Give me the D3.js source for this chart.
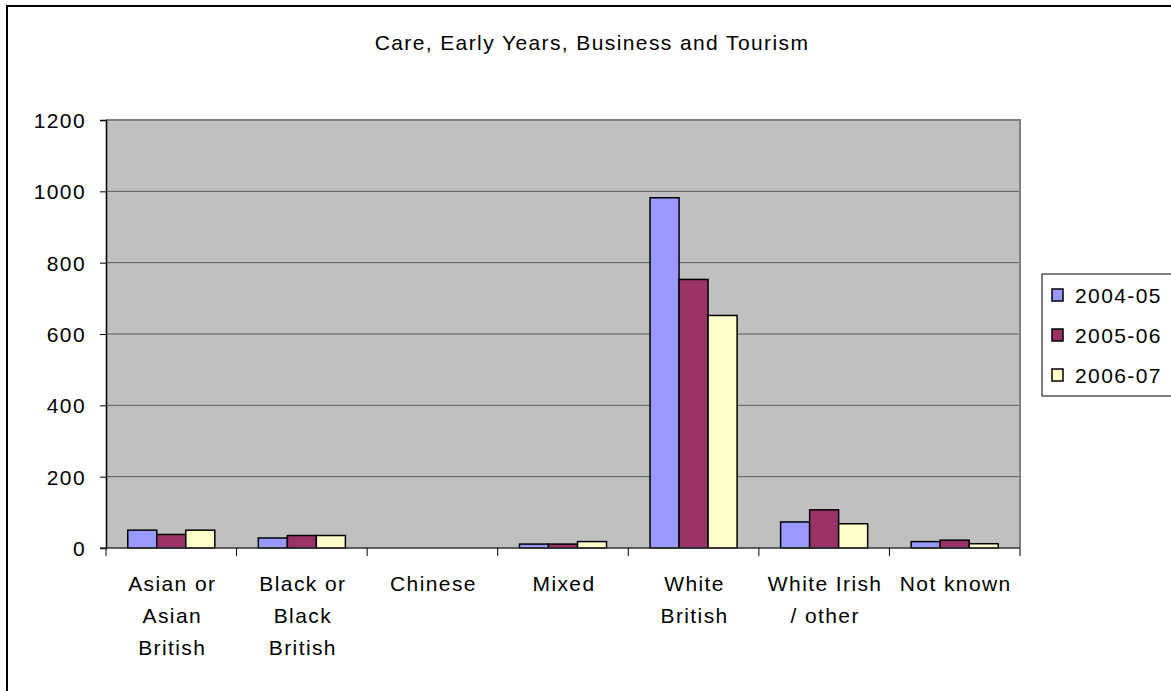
<!DOCTYPE html>
<html>
<head>
<meta charset="utf-8">
<script src="https://cdn.jsdelivr.net/npm/d3@7"></script>
<style>
  html, body { margin: 0; padding: 0; background: #fff; }
  svg text { font-family: "Liberation Sans", Arial, sans-serif; fill: #000; letter-spacing: 1.4px; }
</style>
</head>
<body>
<svg id="chart" width="1171" height="691"></svg>
<script>
// Ethnicity groups along the x axis (each label split into lines)
const categories = [
  ["Asian or", "Asian", "British"],
  ["Black or", "Black", "British"],
  ["Chinese"],
  ["Mixed"],
  ["White", "British"],
  ["White Irish", "/ other"],
  ["Not known"]
];
const seriesNames = ["2004-05", "2005-06", "2006-07"];
const values2004 = [50, 28, 0, 11, 982, 73, 18];
const values2005 = [38, 35, 0, 11, 753, 107, 22];
const values2006 = [50, 35, 0, 18, 652, 68, 12];
const yTicks = [0, 200, 400, 600, 800, 1000, 1200];
const colors = ["#9999FF", "#993366", "#FFFFCC"];

const series = [values2004, values2005, values2006];
const svg = d3.select("#chart");
const FONT = 21;

// outer chart frame
svg.append("rect")
  .attr("x", 7).attr("y", 6).attr("width", 1200).attr("height", 720)
  .attr("fill", "none").attr("stroke", "#000").attr("stroke-width", 2);

// title
svg.append("text")
  .attr("x", 592).attr("y", 42).attr("dy", "0.36em")
  .attr("text-anchor", "middle")
  .attr("font-size", FONT)
  .text("Care, Early Years, Business and Tourism");

const plot = { left: 106, right: 1020, top: 120, bottom: 548 };

const x = d3.scaleBand()
  .domain(d3.range(categories.length))
  .range([plot.left, plot.right])
  .paddingInner(0).paddingOuter(0);

const y = d3.scaleLinear().domain([0, 1200]).range([plot.bottom, plot.top]);

// plot background
svg.append("rect")
  .attr("x", plot.left).attr("y", plot.top)
  .attr("width", plot.right - plot.left).attr("height", plot.bottom - plot.top)
  .attr("fill", "#C0C0C0");

// horizontal gridlines
svg.append("g")
  .selectAll("line")
  .data(yTicks.filter(d => d > 0 && d < 1200))
  .join("line")
  .attr("x1", plot.left).attr("x2", plot.right)
  .attr("y1", d => y(d)).attr("y2", d => y(d))
  .attr("stroke", "#5a5a5a").attr("stroke-width", 1);

// plot border (top and right)
svg.append("path")
  .attr("d", `M${plot.left},${plot.top}H${plot.right}V${plot.bottom}`)
  .attr("fill", "none").attr("stroke", "#808080").attr("stroke-width", 2);

// bars: Excel-style gap width of 150%
const barW = x.bandwidth() / 4.5;
const groupOffset = barW * 0.75;

series.forEach((vals, si) => {
  svg.append("g")
    .selectAll("rect")
    .data(vals)
    .join("rect")
    .attr("x", (d, i) => x(i) + groupOffset + si * barW)
    .attr("y", d => y(d))
    .attr("width", barW)
    .attr("height", d => y(0) - y(d))
    .attr("fill", colors[si])
    .attr("stroke", d => d > 0 ? "#000" : "none")
    .attr("stroke-width", 1.5);
});

// y axis
const yAxis = d3.axisLeft(y).tickValues(yTicks).tickSize(6).tickPadding(14).tickFormat(d3.format("d"));
const gy = svg.append("g").attr("transform", `translate(${plot.left},0)`).call(yAxis);
gy.select(".domain").attr("stroke", "#000").attr("stroke-width", 1.5);
gy.selectAll(".tick line").attr("stroke", "#000");
gy.selectAll(".tick text").attr("font-size", FONT).attr("font-family", "Liberation Sans, Arial, sans-serif").attr("dy", "0.36em");

// x axis baseline with category boundary ticks
const boundaries = d3.range(categories.length + 1).map(i => plot.left + i * x.step());
svg.append("line")
  .attr("x1", plot.left - 6).attr("x2", plot.right)
  .attr("y1", plot.bottom).attr("y2", plot.bottom)
  .attr("stroke", "#333").attr("stroke-width", 1.5);
svg.append("g").selectAll("line")
  .data(boundaries)
  .join("line")
  .attr("x1", d => d).attr("x2", d => d)
  .attr("y1", plot.bottom).attr("y2", plot.bottom + 8)
  .attr("stroke", "#000").attr("stroke-width", 1);

// category labels
const labels = svg.append("g").selectAll("text")
  .data(categories)
  .join("text")
  .attr("text-anchor", "middle")
  .attr("font-size", FONT)
  .attr("transform", (d, i) => `translate(${x(i) + x.bandwidth() / 2 + 1},${plot.bottom + 35})`);
labels.selectAll("tspan")
  .data(d => d)
  .join("tspan")
  .attr("x", 0)
  .attr("y", (d, i) => i * 32)
  .attr("dy", "0.36em")
  .text(d => d);

// legend
const lg = svg.append("g").attr("transform", "translate(1042,274)");
lg.append("rect")
  .attr("x", 0).attr("y", 0).attr("width", 140).attr("height", 122)
  .attr("fill", "#fff").attr("stroke", "#000").attr("stroke-width", 1);
const items = lg.selectAll("g.item")
  .data(seriesNames)
  .join("g")
  .attr("class", "item")
  .attr("transform", (d, i) => `translate(0,${21 + i * 40})`);
items.append("rect")
  .attr("x", 10).attr("y", -6).attr("width", 11).attr("height", 12)
  .attr("fill", (d, i) => colors[i]).attr("stroke", "#000").attr("stroke-width", 1.5);
items.append("text")
  .attr("x", 33).attr("y", 0).attr("dy", "0.36em")
  .attr("font-size", FONT)
  .text(d => d);
</script>
</body>
</html>
